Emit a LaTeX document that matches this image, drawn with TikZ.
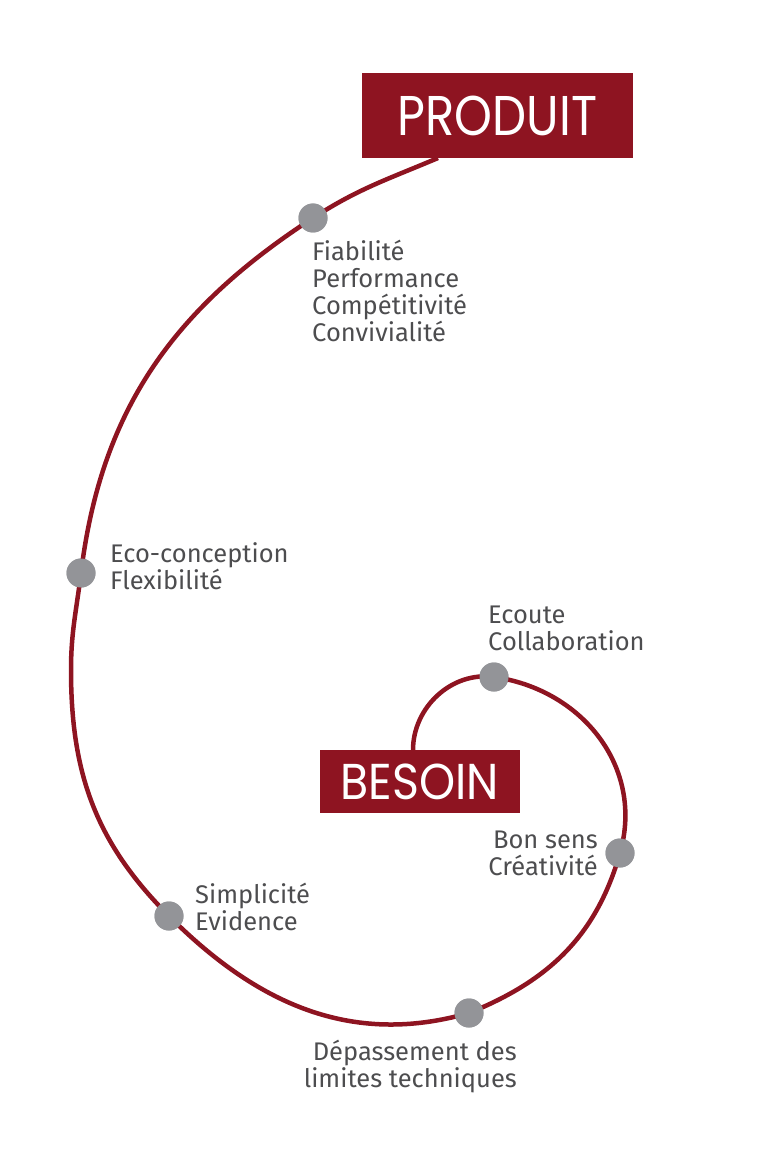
\documentclass[tikz,border=0pt]{standalone}
\usepackage{fontspec}
\setmainfont{Fira Sans}
\newfontfamily\titlefont{Poppins}
\usetikzlibrary{positioning}
\definecolor{brand}{HTML}{8E1421}
\definecolor{dotgray}{HTML}{939498}
\definecolor{txt}{HTML}{4D4D4F}

\begin{document}
\begin{tikzpicture}[x=1pt,y=1pt,
  jalon/.style={circle,fill=dotgray,minimum size=29pt,inner sep=0pt},
  titre/.style={fill=brand,text=white,inner sep=0pt,
    font=\titlefont\fontsize{56}{56}\selectfont},
  legende/.style={text=txt,font=\fontsize{25.5}{27}\selectfont,inner sep=0pt},
  spirale/.style={brand,line width=4.5pt}]
  \useasboundingbox (0,0) rectangle (776,-1166);

  % Milestones along the spiral
  \node[jalon] (ecoute) at (494,-677) {};
  \node[jalon] (bonsens) at (620,-853) {};
  \node[jalon] (depassement) at (469,-1013) {};
  \node[jalon] (simplicite) at (169,-916) {};
  \node[jalon] (eco) at (81,-573) {};
  \node[jalon] (fiabilite) at (313,-218) {};

  % Free ends of the spiral
  \coordinate (depart) at (413,-750);
  \coordinate (gauche) at (71,-670);
  \coordinate (arrivee) at (438,-158);

  % The spiral, from need to product
  \draw[spirale] (depart) to[out=90,in=172] (ecoute.center)
    to[out=-8,in=74,looseness=1.05] (bonsens.center)
    to[out=-106,in=22] (depassement.center)
    to[out=196,in=-45] (simplicite.center)
    to[out=135,in=-90] (gauche)
    to[out=90,in=-97] (eco.center)
    to[out=83,in=-147] (fiabilite.center)
    to[out=33,in=-157] (arrivee);

  % Dots again on top of the line
  \foreach \j in {ecoute,bonsens,depassement,simplicite,eco,fiabilite}
    \fill[dotgray] (\j) circle (14.5pt);

  % Title boxes
  \node[titre,minimum width=271pt,minimum height=85pt] (produit) at (497.5,-115.5)
    {\scalebox{0.86}[1]{PRODUIT}};
  \node[titre,minimum width=200pt,minimum height=63pt] (besoin) at (420,-781.5)
    {\scalebox{0.82}[0.9]{BESOIN}};

  % Labels (anchored on the last line)
  \node[legende,anchor=base west,align=left] (lfiab) at (312,-341)
    {Fiabilité\\Performance\\Compétitivité\\Convivialité};
  \node[legende,anchor=base west,align=left] (leco) at (110,-589)
    {Eco-conception\\Flexibilité};
  \node[legende,anchor=base west,align=left] (lecoute) at (488,-650)
    {Ecoute\\Collaboration};
  \node[legende,anchor=base east,align=right] (lbonsens) at (598,-875)
    {Bon sens\\Créativité};
  \node[legende,anchor=base west,align=left] (lsimpl) at (195,-930)
    {Simplicité\\Evidence};
  \node[legende,anchor=base east,align=right] (ldepass) at (517,-1087)
    {Dépassement des\\limites techniques};
\end{tikzpicture}
\end{document}
